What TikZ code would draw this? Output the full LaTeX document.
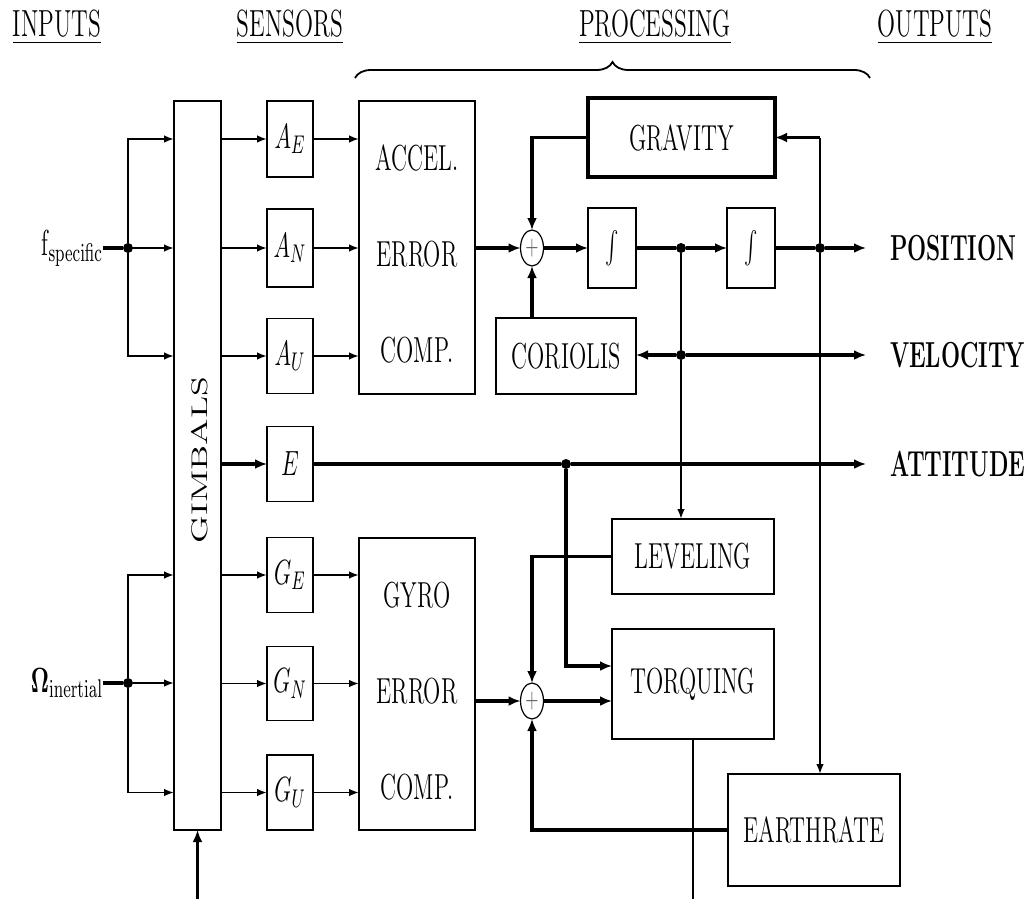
\documentclass[tikz,border=0pt]{standalone}
\usepackage{graphicx}
\usetikzlibrary{arrows.meta,shapes.geometric,decorations.pathreplacing}
\newcommand\vs[1]{\scalebox{1}[1.6]{#1}}
\begin{document}
\begin{tikzpicture}[x=0.5pt,y=-0.5pt,
  every node/.style={inner sep=0pt,outer sep=0pt},
  txt/.style={font=\fontsize{11.3}{13}\selectfont},
  hdr/.style={font=\fontsize{11.8}{14}\selectfont,anchor=base},
  blk/.style={draw,line width=0.9pt,txt},
  ln/.style={line width=0.9pt},
  tk/.style={line width=1.6pt},
  arr/.style={ln,-{Latex[length=5pt,width=3.8pt]}},
  tarr/.style={tk,-{Latex[length=6pt,width=5pt]}},
  dot/.style={circle,fill,minimum size=5pt},
  sum/.style={ellipse,draw,line width=0.6pt,minimum width=11.5pt,minimum height=18pt},
]
\useasboundingbox (0,0) rectangle (1036,899);

% headers
\node[hdr] (hin) at (57,37) {\vs{\underline{INPUTS}}};
\node[hdr] (hsen) at (290,37) {\vs{\underline{SENSORS}}};
\node[hdr] (hproc) at (655,37) {\vs{\underline{PROCESSING}}};
\node[hdr] (hout) at (935,37) {\vs{\underline{OUTPUTS}}};
\draw[ln,decorate,decoration={brace,amplitude=8pt}] (355,78) -- (870,78);

% gimbals and sensors
\node[blk,minimum width=23.5pt,minimum height=364.5pt] (gimbals) at (197.5,465.5) {};
\node[txt,rotate=90] (glabel) at (200,460) {\scalebox{1.6}[1]{GIMBALS}};
\node[blk,minimum width=23pt,minimum height=38pt] (AE) at (290,139) {\vs{$A_E$}};
\node[blk,minimum width=23pt,minimum height=39pt] (AN) at (290,248) {\vs{$A_N$}};
\node[blk,minimum width=23pt,minimum height=37.5pt] (AU) at (290,356) {\vs{$A_U$}};
\node[blk,minimum width=23pt,minimum height=37.5pt] (E) at (290,464) {\vs{$E$}};
\node[blk,minimum width=23pt,minimum height=37.5pt] (GE) at (290,575) {\vs{$G_E$}};
\node[blk,minimum width=23pt,minimum height=37pt] (GN) at (290,683.5) {\vs{$G_N$}};
\node[blk,minimum width=23pt,minimum height=37.5pt] (GU) at (290,792.5) {\vs{$G_U$}};

\node[blk,minimum width=58pt,minimum height=146.5pt] (accel) at (417,247.5)
  {\vs{\fontsize{11.3}{30}\selectfont\begin{tabular}{@{}c@{}}ACCEL.\\ERROR\\COMP.\end{tabular}}};
\node[blk,minimum width=58pt,minimum height=146pt] (gyro) at (417,684)
  {\vs{\fontsize{11.3}{30}\selectfont\begin{tabular}{@{}c@{}}GYRO\\ERROR\\COMP.\end{tabular}}};

% inputs
\node[txt,anchor=east] (fs) at (103,248) {\vs{f$_{\mathrm{specific}}$}};
\node[dot] (fsd) at (128,248) {};
\draw[tk] (fs) -- (fsd);
\draw[arr] (fsd) |- (gimbals.west |- AE);
\draw[arr] (fsd) -- (gimbals.west |- fsd);
\draw[arr] (fsd) |- (gimbals.west |- AU);
\node[txt,anchor=east] (om) at (103,683) {\vs{$\mathbf{\Omega}_{\mathrm{inertial}}$}};
\node[dot] (od) at (128,683) {};
\draw[tk] (om) -- (od);
\draw[arr] (od) |- (gimbals.west |- GE);
\draw[arr] (od) -- (gimbals.west |- od);
\draw[arr] (od) |- (gimbals.west |- GU);
\coordinate (gin) at (197.5,899);
\draw[tarr] (gin) -- (gimbals.south);

\foreach \n in {AE,AN,AU,GE,GN,GU} \draw[arr] (gimbals.east |- \n) -- (\n);
\draw[tarr] (gimbals.east |- E) -- (E);
\foreach \n in {AE,AN,AU} \draw[arr] (\n) -- (accel.west |- \n);
\foreach \n in {GE,GN,GU} \draw[arr] (\n) -- (gyro.west |- \n);

% processing blocks
\node[blk,line width=1.6pt,minimum width=93.5pt,minimum height=39.5pt] (gravity) at (681.5,137.5) {\vs{GRAVITY}};
\node[blk,minimum width=24pt,minimum height=40pt] (int1) at (612,248) {\vs{$\int$}};
\node[blk,minimum width=24pt,minimum height=40pt] (int2) at (751,248) {\vs{$\int$}};
\node[blk,minimum width=70pt,minimum height=38pt] (coriolis) at (566,356) {\vs{CORIOLIS}};
\node[blk,minimum width=81pt,minimum height=37.5pt] (leveling) at (693,556.5) {\vs{LEVELING}};
\node[blk,minimum width=81pt,minimum height=55pt] (torquing) at (693,684) {\vs{TORQUING}};
\node[blk,minimum width=86pt,minimum height=56pt] (earthrate) at (814,830) {\vs{EARTHRATE}};
\node[sum] (sum1) at (532,248) {\vs{\color{black!60}\fontsize{8}{9}\selectfont$+$}};
\node[sum] (sum2) at (532,701) {\vs{\color{black!60}\fontsize{8}{9}\selectfont$+$}};

% accel loop
\draw[tarr] (accel.east |- sum1) -- (sum1);
\draw[tarr] (sum1) -- (int1);
\node[dot] (d1) at (681,248) {};
\draw[tk] (int1) -- (d1);
\draw[tarr] (d1) -- (int2);
\node[dot] (d2) at (820,248) {};
\draw[tk] (int2) -- (d2);
\coordinate (posE) at (866,248);
\draw[tarr] (d2) -- (posE);
\draw[tarr] (gravity.west) -| (sum1.north);
\draw[tarr] (coriolis.north -| sum1) -- (sum1.south);
\draw[ln] (d2) -- (d2 |- gravity.east);
\draw[tarr] (d2 |- gravity.east) -- (gravity.east);
\draw[arr] (d2) -- (d2 |- earthrate.north);
\node[dot] (vd) at (681,355) {};
\draw[ln] (d1) -- (vd);
\draw[arr] (vd) -- (vd |- leveling.north);
\draw[tarr] (vd) -- (coriolis.east |- vd);
\coordinate (velE) at (866,355);
\draw[tarr] (vd) -- (velE);

% attitude
\node[dot] (ed) at (566,464) {};
\draw[tk] (E) -- (ed);
\coordinate (attE) at (866,464);
\draw[tarr] (ed) -- (attE);
\draw[tarr] (ed) |- ([yshift=9pt]torquing.west);

% gyro loop
\draw[tarr] (gyro.east |- sum2) -- (sum2);
\draw[tarr] (sum2) -- (torquing.west |- sum2);
\draw[tarr] (leveling.west) -| (sum2.north);
\draw[tarr] (earthrate.west) -| (sum2.south);
\coordinate (tout) at (693,899);
\draw[ln] (torquing.south) -- (tout);

% outputs
\node[txt,anchor=west] (pos) at (890,248) {\vs{\bfseries POSITION}};
\node[txt,anchor=west] (vel) at (890,355) {\vs{\bfseries VELOCITY}};
\node[txt,anchor=west] (att) at (890,464) {\vs{\bfseries ATTITUDE}};
\end{tikzpicture}
\end{document}
